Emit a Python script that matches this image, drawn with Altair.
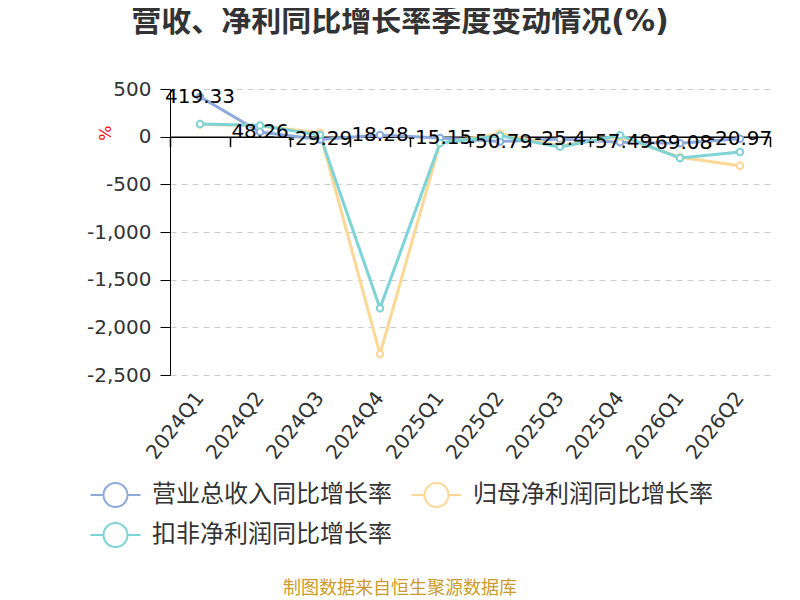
import altair as alt
import pandas as pd

quarters = ["2024Q1", "2024Q2", "2024Q3", "2024Q4", "2025Q1",
            "2025Q2", "2025Q3", "2025Q4", "2026Q1", "2026Q2"]
series_names = ["营业总收入同比增长率", "归母净利润同比增长率", "扣非净利润同比增长率"]
revenue = [419.33, 48.26, -29.29, 18.28, -15.15, -50.79, -25.4, -57.49, -69.08, -20.97]
net_profit = [128, 115, 40, -2280, -70, 32, -95, 0, -215, -305]
deducted_profit = [132, 118, 17, -1800, -66, 10, -107, 15, -223, -160]
colors = ["#8EA9DB", "#FCD796", "#7ED3D6"]
y_ticks = [-2500, -2000, -1500, -1000, -500, 0, 500]

FONT = "DejaVu Sans, Noto Sans CJK SC"

rows = []
for name, vals in zip(series_names, [revenue, net_profit, deducted_profit]):
    for q, v in zip(quarters, vals):
        rows.append({"quarter": q, "series": name, "value": v})
df = pd.DataFrame(rows)
rev_df = pd.DataFrame({"quarter": quarters, "value": revenue,
                       "label": [f"{v:g}" for v in revenue]})

W, H = 600, 286
y0_px = H * 500 / 3000.0  # pixel position of zero from top

# legend is laid out column by column: order so rows read 营业/归母, then 扣非
legend_order = [series_names[0], series_names[2], series_names[1]]
legend_colors = [colors[0], colors[2], colors[1]]

xscale = alt.Scale(type="band", domain=quarters, paddingInner=0, paddingOuter=0)
yscale = alt.Scale(domain=[-2500, 500], nice=False, zero=False)
cscale = alt.Scale(domain=legend_order, range=legend_colors)

legend_path = ("M-1.25,0L-0.6,0M0.6,0L1.25,0"
               "M-0.6,0A0.6,0.6,0,1,1,0.6,0A0.6,0.6,0,1,1,-0.6,0")

yaxis = alt.Axis(values=y_ticks, title="%", titleColor="red",
                 labelExpr="(datum.value < 0 ? '-' : '') + format(abs(datum.value), ',.0f')",
                 titleFontSize=16, titleFont=FONT, titleFontWeight="normal",
                 titleAngle=270, titleX=-65, titleY=y0_px - 4,
                 titleAlign="center", titleBaseline="middle",
                 labelFont=FONT, labelFontSize=20, labelColor="#333333",
                 labelPadding=9, tickSize=10, tickColor="#000000",
                 domainColor="#000000", domainWidth=1,
                 grid=True, gridColor="#cccccc", gridDash=[6, 5], gridWidth=1)

xaxis_labels = alt.Axis(title=None, orient="bottom", domain=False, ticks=False,
                        grid=False, labelAngle=-52, labelAlign="right",
                        labelBaseline="middle", labelPadding=19,
                        labelFont=FONT, labelFontSize=20, labelColor="#333333")

xaxis_zero = alt.Axis(title=None, orient="bottom", labels=False, grid=False,
                      offset=-(H - y0_px), domainColor="#000000", domainWidth=1.5,
                      tickColor="#000000", tickSize=10, tickWidth=1.5,
                      tickBand="extent")

legend = alt.Legend(title=None, orient="none", legendX=-75.5, legendY=385,
                    columns=2, symbolType=legend_path, symbolSize=1600,
                    symbolStrokeWidth=2, symbolFillColor="white",
                    labelFont=FONT, labelFontSize=24, labelColor="#333333",
                    labelOffset=15.5, labelLimit=400, columnPadding=15,
                    rowPadding=3, padding=0)

base = alt.Chart(df)

lines = base.mark_line(strokeWidth=3).encode(
    x=alt.X("quarter:N", scale=xscale, sort=quarters, axis=xaxis_labels),
    y=alt.Y("value:Q", scale=yscale, axis=yaxis),
    color=alt.Color("series:N", scale=cscale, sort=legend_order, legend=legend),
)

points = base.mark_point(shape="circle", filled=False, fill="white", fillOpacity=1,
                         size=42, strokeWidth=2, opacity=1).encode(
    x=alt.X("quarter:N", scale=xscale, sort=quarters, axis=xaxis_zero),
    y=alt.Y("value:Q", scale=yscale),
    color=alt.Color("series:N", scale=cscale, sort=legend_order, legend=legend),
)

labels = alt.Chart(rev_df).mark_text(font=FONT, fontSize=20, color="#000000",
                                     baseline="middle", align="center").encode(
    x=alt.X("quarter:N", scale=xscale, sort=quarters, axis=None),
    y=alt.Y("value:Q", scale=yscale),
    text="label:N",
)

title = alt.Chart(pd.DataFrame({"t": ["营收、净利同比增长率季度变动情况(%)"]})).mark_text(
    font=FONT, fontSize=30, fontWeight="bold", color="#333333",
    align="center", baseline="middle").encode(
    x=alt.value(230), y=alt.value(-67), text="t:N")

source = alt.Chart(pd.DataFrame({"t": ["制图数据来自恒生聚源数据库"]})).mark_text(
    font="Noto Sans CJK SC", fontSize=18, color="#CC9A2E",
    align="center", baseline="middle").encode(
    x=alt.value(230), y=alt.value(500), text="t:N")

chart = alt.layer(lines, points, labels, title, source).resolve_axis(
    x="independent"
).properties(
    width=W, height=H,
    autosize=alt.AutoSizeParams(type="none"),
    padding={"left": 162, "top": 81, "right": 22, "bottom": 223},
    background="white",
).configure_view(stroke=None)

chart.save("out.html", embed_options={"renderer": "svg", "actions": False})
